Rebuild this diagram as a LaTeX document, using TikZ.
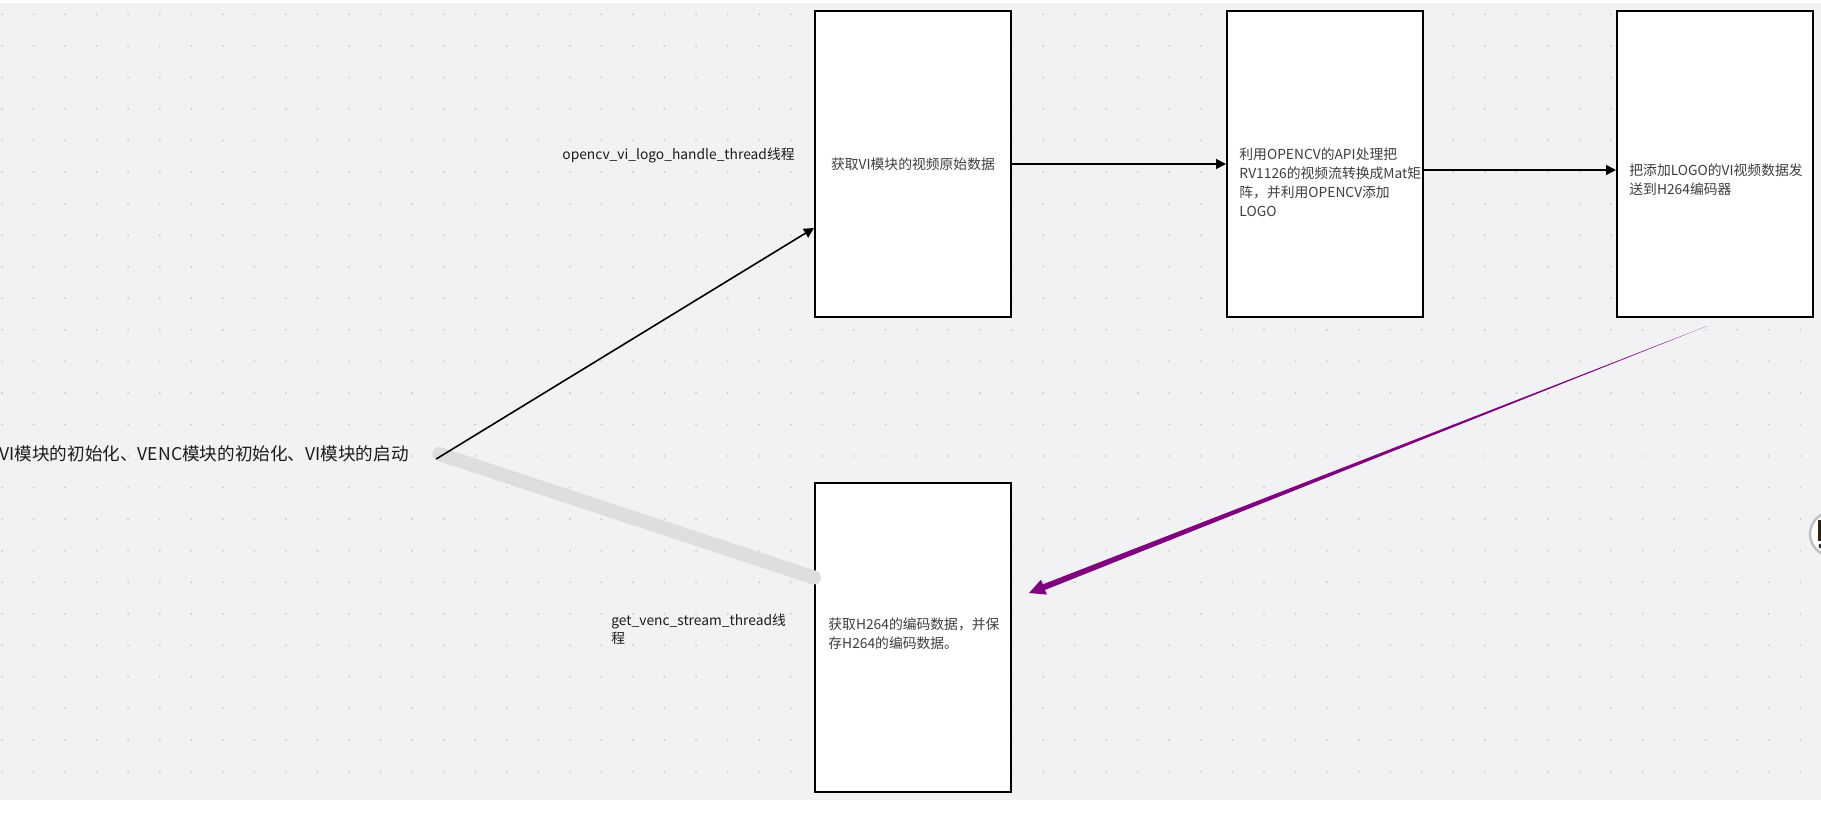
\documentclass[tikz,border=0pt]{standalone}
\usepackage{fontspec}
\setmainfont{Noto Sans CJK SC}
\usepackage{tikz}
\usetikzlibrary{arrows.meta, positioning, calc}
\definecolor{BoardGray}{HTML}{F2F2F5}
\definecolor{GridDot}{HTML}{CDCDD2}
\definecolor{InkDark}{HTML}{1C1C1C}
\definecolor{InkBox}{HTML}{3E3E3E}
\definecolor{LinePurple}{HTML}{800080}

\begin{document}
\begin{tikzpicture}[
  x=0.5pt, y=-0.5pt,
  stagebox/.style={rectangle, draw=black, line width=1pt, fill=white,
    minimum width=98pt, minimum height=153pt, inner sep=0pt},
  boxtext/.style={inner sep=0pt, text=InkBox, align=left,
    font=\fontsize{6.9}{9.5}\selectfont},
  threadlbl/.style={inner sep=0pt, text=InkDark, align=left,
    font=\fontsize{6.9}{9}\selectfont},
  flow/.style={-{Triangle[length=5pt, width=5pt]}, line width=0.8pt, draw=black},
  >=Stealth, node distance=82pt
]
  \fill[white] (0,0) rectangle (1821,814);
  \fill[BoardGray] (0,3) rectangle (1821,800);
  \foreach \i in {0,...,57}
    \foreach \j in {0,...,24}
      \fill[GridDot] (2+31.55*\i, 14.3+31.55*\j) circle[radius=1.1];
  \useasboundingbox (0,0) rectangle (1821,814);

  \node[stagebox, anchor=north west] (getvi) at (814,10) {};
  \node[stagebox, right=107pt of getvi] (cvproc) {};
  \node[stagebox, right=96pt of cvproc] (sendenc) {};
  \node[stagebox, below=82pt of getvi, minimum height=154.5pt] (getenc) {};

  \node[boxtext] (getvitxt) at (getvi.center) {获取VI模块的视频原始数据};
  \node[boxtext, anchor=west] (cvproctxt) at ($(cvproc.west)+(13,18)$)
    {利用OPENCV的API处理把\\RV1126的视频流转换成Mat矩\\阵，并利用OPENCV添加\\LOGO};
  \node[boxtext, anchor=west] (sendenctxt) at ($(sendenc.west)+(13,16)$)
    {把添加LOGO的VI视频数据发\\送到H264编码器};
  \node[boxtext, anchor=west] (getenctxt) at ($(getenc.west)+(14,-4)$)
    {获取H264的编码数据，并保\\存H264的编码数据。};

  \node[inner sep=0pt, anchor=west, text=InkDark, font=\fontsize{8.8}{10}\selectfont]
    (init) at (-1,454) {VI模块的初始化、VENC模块的初始化、VI模块的启动};
  \node[threadlbl, anchor=west] (thrvi) at (562,155) {opencv\_vi\_logo\_handle\_thread线程};
  \node[threadlbl, anchor=west] (thrvenc) at (611,629) {get\_venc\_stream\_thread线\\程};

  \coordinate (mosaicEnd) at ($(getenc.west)+(0,-60)$);
  \draw[line width=7pt, draw=black!13, line cap=round]
    ($(init.east)+(30,0)$) -- (mosaicEnd);

  \draw[flow] ($(init.east)+(27,5)$) -- ($(getvi.west)+(0,64)$);
  \draw[flow] (getvi.east) -- (cvproc.west);
  \draw[flow] ($(cvproc.east)+(0,6)$) -- ($(sendenc.west)+(0,6)$);

  \coordinate (pStart) at ($(sendenc.south)+(-8,8)$);
  \coordinate (pEnd) at ($(getenc.east)+(17,-44.5)$);
  \coordinate (pBase) at ($(pEnd)!8pt!(pStart)$);
  \fill[LinePurple] (pStart) -- ($(pBase)!1.5pt!90:(pEnd)$) -- ($(pBase)!4pt!90:(pEnd)$)
    -- (pEnd) -- ($(pBase)!4pt!-90:(pEnd)$) -- ($(pBase)!1.5pt!-90:(pEnd)$) -- cycle;

  \draw[fill=white, draw=black!25, line width=1.2pt] (1832,534) circle[radius=22];
  \fill[black!75!brown] (1818,520) rectangle (1824,541);
  \fill[black!80] (1821,546) circle[radius=2.5];
\end{tikzpicture}
\end{document}
